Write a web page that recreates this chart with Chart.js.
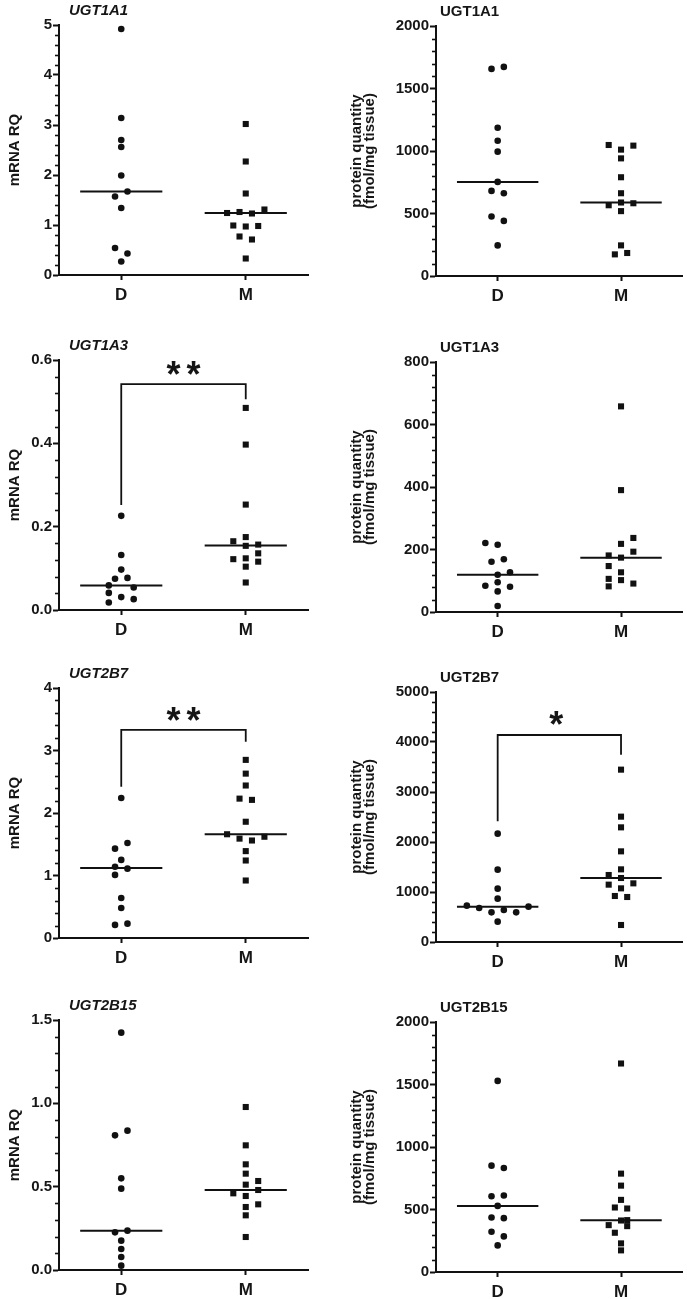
<!DOCTYPE html>
<html><head><meta charset="utf-8">
<script src="https://cdn.jsdelivr.net/npm/chart.js@4.4.1/dist/chart.umd.min.js"></script>
<style>
html,body{margin:0;padding:0;background:#fff;width:687px;height:1299px;overflow:hidden;position:relative;}
</style></head><body>
<script>
// ---------------- DATA ----------------
const groups = ['D', 'M'];

// UGT1A1 mRNA
const a1mD   = [4.92, 3.14, 2.70, 2.56, 1.99, 1.67, 1.57, 1.34, 0.54, 0.43, 0.27];
const a1mDj  = [0, 0, 0, 0, 0, 0.05, -0.05, 0, -0.05, 0.05, 0];
const a1mM   = [3.02, 2.27, 1.63, 1.31, 1.24, 1.26, 1.23, 0.99, 0.97, 0.98, 0.77, 0.71, 0.33];
const a1mMj  = [0, 0, 0, 0.15, -0.15, -0.05, 0.05, -0.1, 0, 0.1, -0.05, 0.05, 0];
const a1mMed = [1.67, 1.24];
const a1mTicks = [0, 1, 2, 3, 4, 5];

// UGT1A1 protein
const a1pD   = [1657, 1673, 1186, 1082, 995, 753, 681, 662, 476, 441, 245];
const a1pDj  = [-0.05, 0.05, 0, 0, 0, 0, -0.05, 0.05, -0.05, 0.05, 0];
const a1pM   = [1048, 1011, 1043, 941, 790, 662, 566, 588, 582, 519, 245, 173, 184];
const a1pMj  = [-0.1, 0, 0.1, 0, 0, 0, -0.1, 0, 0.1, 0, 0, -0.05, 0.05];
const a1pMed = [753, 588];
const a1pTicks = [0, 500, 1000, 1500, 2000];

// UGT1A3 mRNA
const a3mD   = [0.226, 0.132, 0.097, 0.075, 0.077, 0.059, 0.054, 0.041, 0.031, 0.026, 0.018];
const a3mDj  = [0, 0, 0, -0.05, 0.05, -0.1, 0.1, -0.1, 0, 0.1, -0.1];
const a3mM   = [0.485, 0.397, 0.253, 0.175, 0.165, 0.154, 0.157, 0.136, 0.122, 0.124, 0.104, 0.116, 0.066];
const a3mMj  = [0, 0, 0, 0, -0.1, 0, 0.1, 0.1, -0.1, 0, 0, 0.1, 0];
const a3mMed = [0.059, 0.155];
const a3mTicks = [0, 0.2, 0.4, 0.6];
const a3mSig = [0.252, 0.542, 0.506];   // D end, bar, M end
const a3mStarY = 0.578;

// UGT1A3 protein
const a3pD   = [221, 215, 161, 169, 119, 127, 84, 95, 81, 66, 19];
const a3pDj  = [-0.1, 0, -0.05, 0.05, 0, 0.1, -0.1, 0, 0.1, 0, 0];
const a3pM   = [658, 390, 237, 218, 181, 174, 193, 147, 127, 106, 102, 82, 91];
const a3pMj  = [0, 0, 0.1, 0, -0.1, 0, 0.1, -0.1, 0, -0.1, 0, -0.1, 0.1];
const a3pMed = [119, 174];
const a3pTicks = [0, 200, 400, 600, 800];

// UGT2B7 mRNA
const b7mD   = [2.24, 1.43, 1.52, 1.25, 1.14, 1.11, 1.01, 0.64, 0.48, 0.21, 0.23];
const b7mDj  = [0, -0.05, 0.05, 0, -0.05, 0.05, -0.05, 0, 0, -0.05, 0.05];
const b7mM   = [2.85, 2.63, 2.44, 2.23, 2.21, 1.86, 1.66, 1.59, 1.56, 1.62, 1.39, 1.24, 0.92];
const b7mMj  = [0, 0, 0, -0.05, 0.05, 0, -0.15, -0.05, 0.05, 0.15, 0, 0, 0];
const b7mMed = [1.12, 1.66];
const b7mTicks = [0, 1, 2, 3, 4];
const b7mSig = [2.42, 3.33, 3.14];
const b7mStarY = 3.57;

// UGT2B7 protein
const b7pD   = [2167, 1447, 1067, 867, 727, 680, 593, 640, 593, 707, 407];
const b7pDj  = [0, 0, 0, 0, -0.25, -0.15, -0.05, 0.05, 0.15, 0.25, 0];
const b7pM   = [3447, 2507, 2293, 1813, 1453, 1340, 1280, 1147, 1173, 1073, 920, 900, 340];
const b7pMj  = [0, 0, 0, 0, 0, -0.1, 0, -0.1, 0.1, 0, -0.05, 0.05, 0];
const b7pMed = [707, 1280];
const b7pTicks = [0, 1000, 2000, 3000, 4000, 5000];
const b7pSig = [2413, 4140, 3747];
const b7pStarY = 4467;

// UGT2B15 mRNA
const b15mD   = [1.424, 0.808, 0.836, 0.55, 0.488, 0.226, 0.236, 0.176, 0.126, 0.078, 0.026];
const b15mDj  = [0, -0.05, 0.05, 0, 0, -0.05, 0.05, 0, 0, 0, 0];
const b15mM   = [0.978, 0.748, 0.634, 0.578, 0.512, 0.534, 0.46, 0.444, 0.48, 0.394, 0.378, 0.328, 0.198];
const b15mMj  = [0, 0, 0, 0, 0, 0.1, -0.1, 0, 0.1, 0.1, 0, 0, 0];
const b15mMed = [0.236, 0.48];
const b15mTicks = [0, 0.5, 1.0, 1.5];

// UGT2B15 protein
const b15pD   = [1529, 851, 832, 606, 612, 529, 436, 431, 322, 285, 213];
const b15pDj  = [0, -0.05, 0.05, -0.05, 0.05, 0, -0.05, 0.05, -0.05, 0.05, 0];
const b15pM   = [1668, 787, 691, 577, 516, 508, 412, 375, 415, 367, 314, 229, 173];
const b15pMj  = [0, 0, 0, 0, -0.05, 0.05, 0, -0.1, 0.05, 0.05, -0.05, 0, 0];
const b15pMed = [529, 415];
const b15pTicks = [0, 500, 1000, 1500, 2000];

const panelTitles = ['UGT1A1', 'UGT1A1', 'UGT1A3', 'UGT1A3', 'UGT2B7', 'UGT2B7', 'UGT2B15', 'UGT2B15'];
const mrnaTitle = 'mRNA RQ';
const proteinTitle = ['protein quantity', '(fmol/mg tissue)'];

// ---------------- LAYOUT / STYLE ----------------
const INK = '#111111';
const TXT = '#161616';
const FONT = "'Liberation Sans', Arial, Helvetica, sans-serif";
Chart.defaults.font.family = FONT;
Chart.defaults.color = TXT;

const COLS = [
  {left: 0,   width: 340, axisW: 59, padR: 32, titleDx: 10, italic: true,  yTitle: mrnaTitle,    titleLH: 1.2, titlePad: 6},
  {left: 340, width: 347, axisW: 96, padR: 4,  titleDx: 4,  italic: false, yTitle: proteinTitle, titleLH: 0.9, titlePad: 10}
];
const ROWTOP = [[0, 1], [335, 337], [663, 667], [995, 997]];
const MED_HALF = 0.33;

const panels = [
  {col:0,row:0,D:a1mD,Dj:a1mDj,M:a1mM,Mj:a1mMj,med:a1mMed,ticks:a1mTicks,minor:0.2,dec:0},
  {col:1,row:0,D:a1pD,Dj:a1pDj,M:a1pM,Mj:a1pMj,med:a1pMed,ticks:a1pTicks,minor:100,dec:0},
  {col:0,row:1,D:a3mD,Dj:a3mDj,M:a3mM,Mj:a3mMj,med:a3mMed,ticks:a3mTicks,minor:0.04,dec:1,sig:a3mSig,star:'**',starY:a3mStarY},
  {col:1,row:1,D:a3pD,Dj:a3pDj,M:a3pM,Mj:a3pMj,med:a3pMed,ticks:a3pTicks,minor:40,dec:0},
  {col:0,row:2,D:b7mD,Dj:b7mDj,M:b7mM,Mj:b7mMj,med:b7mMed,ticks:b7mTicks,minor:0.2,dec:0,sig:b7mSig,star:'**',starY:b7mStarY},
  {col:1,row:2,D:b7pD,Dj:b7pDj,M:b7pM,Mj:b7pMj,med:b7pMed,ticks:b7pTicks,minor:200,dec:0,sig:b7pSig,star:'*',starY:b7pStarY},
  {col:0,row:3,D:b15mD,Dj:b15mDj,M:b15mM,Mj:b15mMj,med:b15mMed,ticks:b15mTicks,minor:0.1,dec:1},
  {col:1,row:3,D:b15pD,Dj:b15pDj,M:b15pM,Mj:b15pMj,med:b15pMed,ticks:b15pTicks,minor:100,dec:0}
];

const minorTicks = {
  id: 'minorTicks',
  afterDraw(chart, args, opts) {
    const y = chart.scales.y, ctx = chart.ctx, left = chart.chartArea.left;
    const max = y.max, step = opts.step;
    ctx.save();
    ctx.strokeStyle = INK; ctx.lineWidth = 1.6;
    for (let k = 1; k * step < max - 1e-9; k++) {
      const v = k * step;
      if (opts.majors.some(m => Math.abs(m - v) < step / 10)) continue;
      const py = Math.round(y.getPixelForValue(v)) + 0.5;
      ctx.beginPath(); ctx.moveTo(left - 4, py); ctx.lineTo(left, py); ctx.stroke();
    }
    ctx.restore();
  }
};

const panelText = {
  id: 'panelText',
  afterDraw(chart, args, opts) {
    const ctx = chart.ctx, ca = chart.chartArea;
    ctx.save();
    ctx.fillStyle = TXT;
    ctx.font = (opts.italic ? 'italic ' : '') + 'bold 15px ' + FONT;
    ctx.textAlign = 'left'; ctx.textBaseline = 'middle';
    ctx.fillText(opts.title, ca.left + opts.dx, ca.top - 14);
    if (opts.star) {
      const xs = chart.scales.x, ys = chart.scales.y;
      ctx.font = 'bold 36px ' + FONT;
      ctx.textAlign = 'center'; ctx.textBaseline = 'alphabetic';
      try { ctx.letterSpacing = '6px'; } catch (e) {}
      ctx.fillText(opts.star, xs.getPixelForValue(1.5) + (opts.star.length > 1 ? 3 : 0), ys.getPixelForValue(opts.starY) + 18);
    }
    ctx.restore();
  }
};

panels.forEach((p, i) => {
  const col = COLS[p.col];
  const top = ROWTOP[p.row][p.col];
  const wrap = document.createElement('div');
  wrap.style.cssText = `position:absolute;left:${col.left}px;top:${top}px;width:${col.width}px;height:300px;`;
  const cv = document.createElement('canvas');
  cv.width = col.width; cv.height = 300;
  cv.style.width = col.width + 'px'; cv.style.height = '300px';
  wrap.appendChild(cv); document.body.appendChild(wrap);

  const lineDs = (pts, w) => ({data: pts, showLine: true, borderColor: INK, borderWidth: w, pointRadius: 0,
    backgroundColor: INK, fill: false, tension: 0, borderJoinStyle: 'miter', borderCapStyle: 'butt', clip: false});
  const datasets = [
    lineDs([{x: 1 - MED_HALF, y: p.med[0]}, {x: 1 + MED_HALF, y: p.med[0]}], 2),
    lineDs([{x: 2 - MED_HALF, y: p.med[1]}, {x: 2 + MED_HALF, y: p.med[1]}], 2),
    {data: p.D.map((v, k) => ({x: 1 + p.Dj[k], y: v})), pointStyle: 'circle', pointRadius: 3.3,
      backgroundColor: INK, borderWidth: 0, clip: false},
    {data: p.M.map((v, k) => ({x: 2 + p.Mj[k], y: v})), pointStyle: 'rect', pointRadius: 4.3,
      backgroundColor: INK, borderWidth: 0, clip: false}
  ];
  if (p.sig) {
    datasets.push(lineDs([{x: 1, y: p.sig[0]}, {x: 1, y: p.sig[1]}, {x: 2, y: p.sig[1]}, {x: 2, y: p.sig[2]}], 1.8));
  }

  new Chart(cv, {
    type: 'scatter',
    data: {datasets},
    options: {
      responsive: false, animation: false, devicePixelRatio: 1,
      events: [],
      layout: {padding: {top: 25, left: 0, right: col.padR, bottom: 0}},
      plugins: {
        legend: {display: false}, tooltip: {enabled: false},
        minorTicks: {step: p.minor, majors: p.ticks},
        panelText: {title: panelTitles[i], italic: col.italic, dx: col.titleDx, star: p.star, starY: p.starY}
      },
      scales: {
        x: {
          type: 'linear', min: 0.5, max: 2.5,
          afterBuildTicks: s => { s.ticks = groups.map((g, k) => ({value: k + 1})); },
          afterFit: s => { s.height = 25; },
          ticks: {callback: v => groups[Math.round(v) - 1] || '', font: {size: 17, weight: 'bold'}, color: TXT,
            padding: 5, maxRotation: 0, autoSkip: false},
          grid: {display: true, drawOnChartArea: false, tickLength: 5, tickWidth: 2, tickColor: INK},
          border: {display: true, width: 2, color: INK}
        },
        y: {
          type: 'linear', min: 0, max: p.ticks[p.ticks.length - 1],
          afterBuildTicks: s => { s.ticks = p.ticks.map(v => ({value: v})); },
          afterFit: s => { s.width = col.axisW; },
          ticks: {callback: v => Number(v).toFixed(p.dec), font: {size: 15, weight: 'bold'}, color: TXT,
            padding: 1, autoSkip: false},
          grid: {display: true, drawOnChartArea: false, tickLength: 6, tickWidth: 2, tickColor: INK},
          border: {display: true, width: 2, color: INK},
          title: {display: true, text: col.yTitle, color: TXT,
            font: {size: 15, weight: 'bold', lineHeight: col.titleLH}, padding: {top: col.titlePad, bottom: 0}}
        }
      }
    },
    plugins: [minorTicks, panelText]
  });
});
</script>
</body></html>
